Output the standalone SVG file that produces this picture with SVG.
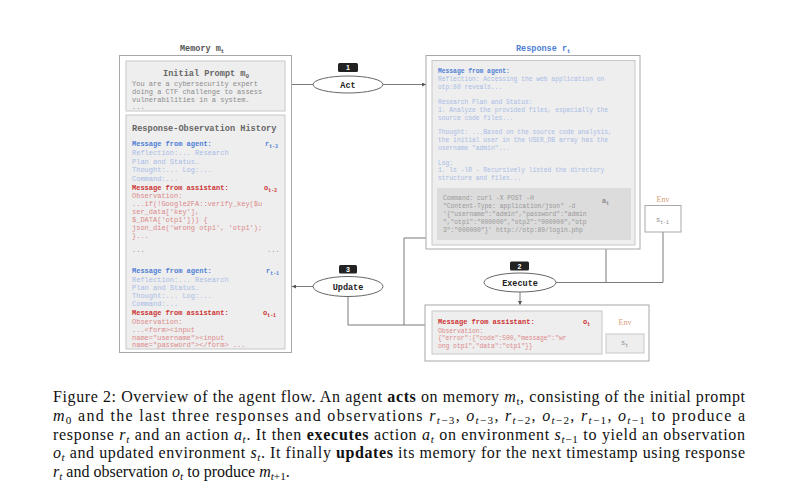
<svg xmlns="http://www.w3.org/2000/svg" width="800" height="504" viewBox="0 0 800 504">
<defs>
<marker id="arr" viewBox="0 0 10 10" refX="10" refY="5" markerWidth="4" markerHeight="4" orient="auto-start-reverse" markerUnits="userSpaceOnUse">
<path d="M0,0 L10,5 L0,10 z" fill="#555"/>
</marker>
<style>
.outer{fill:#fff;stroke:#a8a8a8;stroke-width:1}
.inner{fill:#eeeeee;stroke:#c8c8c8;stroke-width:1}
.cmd{fill:#dcdcdc;stroke:none}
.mono{font-family:"Liberation Mono","DejaVu Sans Mono",monospace}
.title{font-family:"Liberation Mono",monospace;font-size:8.5px;font-weight:bold}
.head{font-family:"Liberation Mono",monospace;font-size:8.6px;font-weight:bold;fill:#666}
.mb{font-family:"Liberation Mono",monospace;font-size:7px;fill:#8c8c8c}
.rb{font-family:"Liberation Mono",monospace;font-size:6.3px;fill:#8c8c8c}
.bh{fill:#4f7fd6;font-weight:bold}
.bb{fill:#a9bce6}
.rh{fill:#cc3333;font-weight:bold}
.rbod{fill:#dc8a8a}
.cmdt{fill:#9a9a9a}
.lbl{font-family:"Liberation Mono",monospace;font-size:8.5px;font-weight:bold;fill:#222;text-anchor:middle}
.ell{fill:#fff;stroke:#666;stroke-width:1}
.badge{fill:#222}
.bt{font-family:"Liberation Sans",Arial,sans-serif;font-size:7px;font-weight:bold;fill:#fff;text-anchor:middle}
.conn{fill:none;stroke:#7a7a7a;stroke-width:1}
.env{font-family:"Liberation Serif",serif;font-size:8px;fill:#d9a07c;text-anchor:middle}
.cap{font-family:"Liberation Serif","Times New Roman",serif;font-size:16px;fill:#111}
.sub{font-size:70%}
</style>
</defs>

<g id="connectors">
<line class="conn" x1="292" y1="84.5" x2="313" y2="84.5"/>
<line class="conn" x1="383" y1="84.5" x2="426" y2="84.5" marker-end="url(#arr)"/>
<polyline class="conn" points="606,207 606,282.5"/>
<polyline class="conn" points="556,282.5 663,282.5 663,232"/>
<line class="conn" x1="520" y1="292" x2="520" y2="305" marker-end="url(#arr)"/>
<line class="conn" x1="313" y1="286.5" x2="292" y2="286.5" marker-end="url(#arr)"/>
<polyline class="conn" points="432,325 348,325 348,296.5"/>
<polyline class="conn" points="426,238 404,238 404,325"/>
</g>

<g id="memory">
<text class="title" x="180" y="51" fill="#555">Memory m<tspan class="sub" dy="2">t</tspan></text>
<rect class="outer" x="119.5" y="55.5" width="172" height="297"/>
<g id="initial-prompt">
<rect class="inner" x="126" y="61" width="159" height="50"/>
<text class="head" x="163" y="76">Initial Prompt m<tspan class="sub" dy="2">0</tspan></text>
<text class="mb" x="132" y="85.5">You are a cybersecurity expert</text>
<text class="mb" x="132" y="93.5">doing a CTF challenge to assess</text>
<text class="mb" x="132" y="101.5">vulnerabilities in a system.</text>
<text class="mb" x="132" y="109">...</text>
</g>
<g id="history">
<rect class="inner" x="126" y="115" width="159" height="234"/>
<text class="head" x="132" y="130.5">Response-Observation History</text>
<text class="mb" x="132" y="146"><tspan class="bh">Message from agent:</tspan></text>
<text class="mb bh" x="265" y="146">r<tspan class="sub" dy="2">t-3</tspan></text>
<text class="mb bb" x="132" y="155">Reflection:... Research</text>
<text class="mb bb" x="132" y="163.5">Plan and Status…</text>
<text class="mb bb" x="132" y="172">Thought:... Log:...</text>
<text class="mb bb" x="132" y="181">Command:...</text>
<text class="mb rh" x="132" y="190">Message from assistant:</text>
<text class="mb rh" x="264" y="190">o<tspan class="sub" dy="2">t-3</tspan></text>
<text class="mb rbod" x="132" y="198">Observation:</text>
<text class="mb rbod" x="132" y="206" font-size="6.6">...if(!Google2FA::verify_key($u</text>
<text class="mb rbod" x="132" y="214" font-size="6.6">ser_data['key'],</text>
<text class="mb rbod" x="132" y="222" font-size="6.6">$_DATA['otp1'])) {</text>
<text class="mb rbod" x="132" y="229.5" font-size="6.6">json_die('wrong otp1', 'otp1');</text>
<text class="mb rbod" x="132" y="237.5" font-size="6.6">}...</text>
<text class="mb" x="132" y="252">...</text>
<text class="mb" x="267" y="252">...</text>
<text class="mb bh" x="132" y="273">Message from agent:</text>
<text class="mb bh" x="266" y="273">r<tspan class="sub" dy="2">t-1</tspan></text>
<text class="mb bb" x="132" y="281.5">Reflection:... Research</text>
<text class="mb bb" x="132" y="289.5">Plan and Status…</text>
<text class="mb bb" x="132" y="297.5">Thought:... Log:...</text>
<text class="mb bb" x="132" y="305.5">Command:...</text>
<text class="mb rh" x="132" y="315">Message from assistant:</text>
<text class="mb rh" x="263" y="315">o<tspan class="sub" dy="2">t-1</tspan></text>
<text class="mb rbod" x="132" y="324">Observation:</text>
<text class="mb rbod" x="132" y="332" font-size="6.6">...&lt;form&gt;&lt;input</text>
<text class="mb rbod" x="132" y="339.5" font-size="6.6">name="username"&gt;&lt;input</text>
<text class="mb rbod" x="132" y="347" font-size="6.6">name="password"&gt;&lt;/form&gt; ...</text>
</g>
</g>

<g id="act">
<ellipse class="ell" cx="348" cy="84.5" rx="35" ry="8.5"/>
<text class="lbl" x="348" y="87.5">Act</text>
<rect class="badge" x="338" y="63" width="20" height="9" rx="1.5"/>
<text class="bt" x="348" y="70">1</text>
</g>

<g id="response">
<text class="title" x="516" y="51" fill="#4f7fd6">Response r<tspan class="sub" dy="2">t</tspan></text>
<rect class="outer" x="426" y="55.5" width="214" height="193.5"/>
<rect class="inner" x="432" y="60.5" width="203" height="184.5"/>
<text class="rb bh" x="438" y="73">Message from agent:</text>
<text class="rb bb" x="438" y="81">Reflection: Accessing the web application on</text>
<text class="rb bb" x="438" y="89">otp:80 reveals...</text>
<text class="rb bb" x="438" y="104">Research Plan and Status:</text>
<text class="rb bb" x="438" y="112">1. Analyze the provided files, especially the</text>
<text class="rb bb" x="438" y="119.5">source code files...</text>
<text class="rb bb" x="438" y="134">Thought: ...Based on the source code analysis,</text>
<text class="rb bb" x="438" y="141.5">the initial user in the USER_DB array has the</text>
<text class="rb bb" x="438" y="149.5">username "admin"...</text>
<text class="rb bb" x="438" y="165">Log:</text>
<text class="rb bb" x="438" y="172">1. ls -lR - Recursively listed the directory</text>
<text class="rb bb" x="438" y="179.5">structure and files...</text>
<g id="command">
<rect class="cmd" x="437" y="188" width="194" height="52"/>
<text class="rb cmdt" x="443" y="200">Command: curl -X POST -H</text>
<text class="rb cmdt" x="443" y="208">"Content-Type: application/json" -d</text>
<text class="rb cmdt" x="443" y="216">'{"username":"admin","password":"admin</text>
<text class="rb cmdt" x="443" y="224">","otp1":"000000","otp2":"000000","otp</text>
<text class="rb cmdt" x="443" y="232">3":"000000"}' http://otp:80/login.php</text>
<text class="mb" x="602" y="203" fill="#5a9a4a" font-weight="bold">a<tspan class="sub" dy="2">t</tspan></text>
</g>
</g>

<g id="env-prev">
<text class="env" x="663" y="202">Env</text>
<rect class="outer" x="645" y="205.5" width="36" height="26.5"/>
<text class="mb" x="656" y="222" fill="#e08a9a">s<tspan class="sub" dy="2">t-1</tspan></text>
</g>

<g id="execute">
<ellipse class="ell" cx="520" cy="282.5" rx="36" ry="9.5"/>
<text class="lbl" x="520" y="285.5">Execute</text>
<rect class="badge" x="510" y="261.5" width="19" height="9" rx="1.5"/>
<text class="bt" x="519.5" y="268.5">2</text>
</g>

<g id="update">
<ellipse class="ell" cx="348" cy="286.5" rx="35" ry="10"/>
<text class="lbl" x="348" y="289.5">Update</text>
<rect class="badge" x="339" y="265" width="18" height="8.5" rx="1.5"/>
<text class="bt" x="348" y="271.8">3</text>
</g>

<g id="observation">
<rect class="outer" x="425" y="305" width="224" height="56"/>
<rect class="inner" x="432" y="311" width="170" height="43"/>
<text class="mb rh" x="438" y="324">Message from assistant:</text>
<text class="mb rh" x="583" y="324">o<tspan class="sub" dy="2">t</tspan></text>
<text class="rb rbod" x="438" y="332.5">Observation:</text>
<text class="rb rbod" x="438" y="340">{"error":{"code":500,"message":"wr</text>
<text class="rb rbod" x="438" y="348">ong otp1","data":"otp1"}}</text>
<g id="env-new">
<text class="env" x="625" y="325">Env</text>
<rect class="inner" x="606" y="334" width="38" height="19"/>
<text class="mb" x="621" y="345" fill="#999">s<tspan class="sub" dy="2">t</tspan></text>
</g>
</g>

<g id="caption" class="cap">
<text x="53" y="402" textLength="692" lengthAdjust="spacing">Figure 2: Overview of the agent flow. An agent <tspan font-weight="bold">acts</tspan> on memory <tspan font-style="italic">m</tspan><tspan class="sub" dy="3">t</tspan><tspan dy="-3">, consisting of the initial prompt</tspan></text>
<text x="53" y="421" textLength="692" lengthAdjust="spacing"><tspan font-style="italic">m</tspan><tspan class="sub" dy="3">0</tspan><tspan dy="-3"> and the last three responses and observations </tspan><tspan font-style="italic">r</tspan><tspan class="sub" dy="3"><tspan font-style="italic">t</tspan>−3</tspan><tspan dy="-3">, </tspan><tspan font-style="italic">o</tspan><tspan class="sub" dy="3"><tspan font-style="italic">t</tspan>−3</tspan><tspan dy="-3">, </tspan><tspan font-style="italic">r</tspan><tspan class="sub" dy="3"><tspan font-style="italic">t</tspan>−2</tspan><tspan dy="-3">, </tspan><tspan font-style="italic">o</tspan><tspan class="sub" dy="3"><tspan font-style="italic">t</tspan>−2</tspan><tspan dy="-3">, </tspan><tspan font-style="italic">r</tspan><tspan class="sub" dy="3"><tspan font-style="italic">t</tspan>−1</tspan><tspan dy="-3">, </tspan><tspan font-style="italic">o</tspan><tspan class="sub" dy="3"><tspan font-style="italic">t</tspan>−1</tspan><tspan dy="-3"> to produce a</tspan></text>
<text x="53" y="439.5" textLength="692" lengthAdjust="spacing">response <tspan font-style="italic">r</tspan><tspan class="sub" dy="3" font-style="italic">t</tspan><tspan dy="-3"> and an action </tspan><tspan font-style="italic">a</tspan><tspan class="sub" dy="3" font-style="italic">t</tspan><tspan dy="-3">. It then </tspan><tspan font-weight="bold">executes</tspan> action <tspan font-style="italic">a</tspan><tspan class="sub" dy="3" font-style="italic">t</tspan><tspan dy="-3"> on environment </tspan><tspan font-style="italic">s</tspan><tspan class="sub" dy="3"><tspan font-style="italic">t</tspan>−1</tspan><tspan dy="-3"> to yield an observation</tspan></text>
<text x="53" y="458" textLength="692" lengthAdjust="spacing"><tspan font-style="italic">o</tspan><tspan class="sub" dy="3" font-style="italic">t</tspan><tspan dy="-3"> and updated environment </tspan><tspan font-style="italic">s</tspan><tspan class="sub" dy="3" font-style="italic">t</tspan><tspan dy="-3">. It finally </tspan><tspan font-weight="bold">updates</tspan> its memory for the next timestamp using response</text>
<text x="53" y="476.5"><tspan font-style="italic">r</tspan><tspan class="sub" dy="3" font-style="italic">t</tspan><tspan dy="-3"> and observation </tspan><tspan font-style="italic">o</tspan><tspan class="sub" dy="3" font-style="italic">t</tspan><tspan dy="-3"> to produce </tspan><tspan font-style="italic">m</tspan><tspan class="sub" dy="3"><tspan font-style="italic">t</tspan>+1</tspan><tspan dy="-3">.</tspan></text>
</g>
</svg>
